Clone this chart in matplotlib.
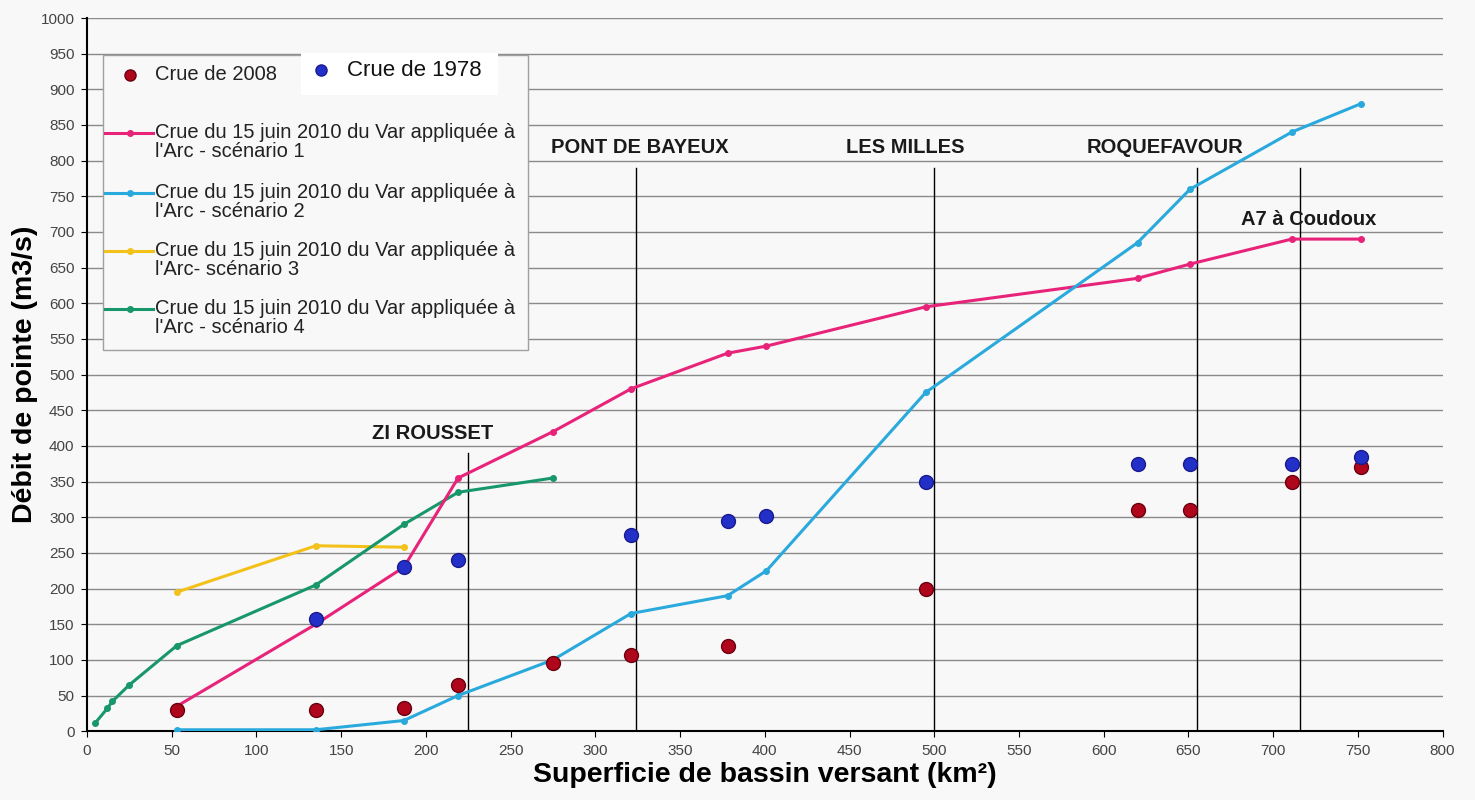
import matplotlib
matplotlib.use("Agg")
import matplotlib.pyplot as plt
from matplotlib.lines import Line2D
from matplotlib.patches import Rectangle

plt.rcParams['font.family'] = ['Liberation Sans', 'DejaVu Sans']

# scenario curves (Var 15 June 2010 flood applied to the Arc)
s1_x = [53, 135, 187, 219, 275, 321, 378, 401, 495, 620, 651, 711, 752]
s1_y = [35, 150, 230, 355, 420, 480, 530, 540, 595, 635, 655, 690, 690]
s2_x = [53, 135, 187, 219, 275, 321, 378, 401, 495, 620, 651, 711, 752]
s2_y = [2, 2, 15, 50, 100, 165, 190, 225, 475, 685, 760, 840, 880]
s3_x = [53, 135, 187]
s3_y = [195, 260, 258]
s4_x = [5, 12, 15, 25, 53, 135, 187, 219, 275]
s4_y = [12, 32, 42, 65, 120, 205, 290, 335, 355]

# observed floods
c2008_x = [53, 135, 187, 219, 275, 321, 378, 495, 620, 651, 711, 752]
c2008_y = [30, 30, 33, 65, 95, 107, 120, 200, 310, 310, 350, 370]
c1978_x = [135, 187, 219, 321, 378, 401, 495, 620, 651, 711, 752]
c1978_y = [158, 230, 240, 275, 295, 302, 350, 375, 375, 375, 385]

# sites along the river
site_names = ['ZI ROUSSET', 'PONT DE BAYEUX', 'LES MILLES', 'ROQUEFAVOUR', 'A7 à Coudoux']
site_x = [225, 324, 500, 655, 716]
site_top = [390, 790, 790, 790, 790]
label_x = [204, 326, 483, 636, 721]
label_y = [418, 818, 818, 818, 718]

scen_labels = [
    ["Crue du 15 juin 2010 du Var appliquée à", "l'Arc - scénario 1"],
    ["Crue du 15 juin 2010 du Var appliquée à", "l'Arc - scénario 2"],
    ["Crue du 15 juin 2010 du Var appliquée à", "l'Arc- scénario 3"],
    ["Crue du 15 juin 2010 du Var appliquée à", "l'Arc - scénario 4"],
]

pink = '#e8237a'
cyan = '#2aa9dc'
yellow = '#f2c21b'
green = '#17976a'
red = '#b0061c'
blue = '#2330c8'
scen_colors = [pink, cyan, yellow, green]

W, H = 1475, 800


def px(x, y):
    # pixel position (top-left origin) -> figure fraction
    return x / W, 1 - y / H


fig = plt.figure(figsize=(14.75, 8), dpi=100, facecolor='#f8f8f8')
ax = fig.add_axes([0.059, 0.086, 0.919, 0.8915])
ax.set_facecolor('#f8f8f8')

for y in range(50, 1001, 50):
    ax.axhline(y, color='#8a8a8a', lw=1.0, zorder=0)

for xs, yt in zip(site_x, site_top):
    ax.plot([xs, xs], [0, yt], color='black', lw=1.0, zorder=1)
for name, lx, ly in zip(site_names, label_x, label_y):
    ax.text(lx, ly, name, ha='center', va='center', fontsize=14.5,
            fontweight='bold', color='#1a1a1a')

ax.plot(s3_x, s3_y, color=yellow, lw=2.2, marker='o', ms=4, zorder=3)
ax.plot(s4_x, s4_y, color=green, lw=2.2, marker='o', ms=4, zorder=3)
ax.plot(s1_x, s1_y, color=pink, lw=2.2, marker='o', ms=4, zorder=3)
ax.plot(s2_x, s2_y, color=cyan, lw=2.2, marker='o', ms=4, zorder=3)
ax.plot(c2008_x, c2008_y, ls='none', marker='o', ms=10, color=red,
        mec='#6a0010', zorder=4)
ax.plot(c1978_x, c1978_y, ls='none', marker='o', ms=10, color=blue,
        mec='#1a1a90', zorder=4)

ax.set_xlim(0, 800)
ax.set_ylim(0, 1000)
ax.set_xticks(range(0, 801, 50))
ax.set_yticks(range(0, 1001, 50))
ax.tick_params(labelsize=11, labelcolor='#444444', length=4, pad=5)
for s in ['top', 'right']:
    ax.spines[s].set_visible(False)
ax.spines['left'].set_linewidth(1.5)
ax.spines['bottom'].set_linewidth(1.5)

ax.set_xlabel('Superficie de bassin versant (km²)', fontsize=20.5,
              fontweight='bold', labelpad=3)
ax.set_ylabel('Débit de pointe (m3/s)', fontsize=20.5, fontweight='bold',
              labelpad=2)

# legend drawn by hand to follow the original layout
fig.patches.append(Rectangle(px(103, 350), 425 / W, 295 / H,
                             transform=fig.transFigure, facecolor='#f8f8f8',
                             edgecolor='#a0a0a0', lw=1.0, zorder=5))
fig.lines.append(Line2D([px(130, 75)[0]], [px(130, 75)[1]], ls='none',
                        marker='o', ms=8, color=red, mec='#6a0010',
                        transform=fig.transFigure, zorder=6))
fig.text(*px(155, 75), 'Crue de 2008', fontsize=14.5, va='center',
         color='#222222', zorder=6)
row_y = [133, 193, 251, 309]
for col, lines, ry in zip(scen_colors, scen_labels, row_y):
    x0, y0 = px(105, ry)
    x1, _ = px(153, ry)
    xm, _ = px(130, ry)
    fig.lines.append(Line2D([x0, x1], [y0, y0], color=col, lw=2.2,
                            transform=fig.transFigure, zorder=6))
    fig.lines.append(Line2D([xm], [y0], color=col, marker='o', ms=4,
                            transform=fig.transFigure, zorder=6))
    fig.text(*px(155, ry), lines[0], fontsize=14.5, va='center',
             color='#222222', zorder=6)
    fig.text(*px(155, ry + 18.5), lines[1], fontsize=14.5, va='center',
             color='#222222', zorder=6)

fig.patches.append(Rectangle(px(301, 95), 197 / W, 42 / H,
                             transform=fig.transFigure, facecolor='white',
                             edgecolor='none', zorder=7))
fig.lines.append(Line2D([px(321, 70)[0]], [px(321, 70)[1]], ls='none',
                        marker='o', ms=8, color=blue, mec='#1a1a90',
                        transform=fig.transFigure, zorder=8))
fig.text(*px(347, 70), 'Crue de 1978', fontsize=16, va='center',
         color='#111111', zorder=8)

fig.savefig('out.png', dpi=100, facecolor=fig.get_facecolor())
